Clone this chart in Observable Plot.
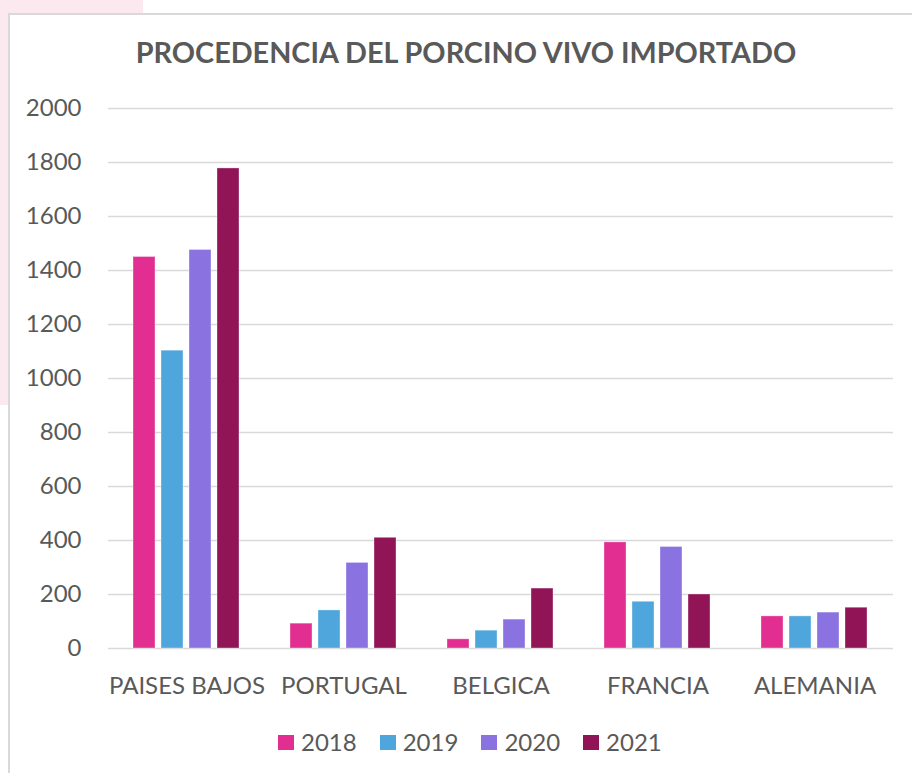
<!DOCTYPE html>
<html>
<head>
<meta charset="utf-8">
<script src="https://cdn.jsdelivr.net/npm/d3@7"></script>
<script src="https://cdn.jsdelivr.net/npm/@observablehq/plot@0.6"></script>
<style>
  html, body { margin: 0; padding: 0; background: #fff; }
  body { width: 912px; height: 773px; position: relative; overflow: hidden; font-family: Lato, "Open Sans", sans-serif; }
  #pink { position: absolute; left: 0; top: 0; width: 143px; height: 405px; background: #fce8ef; }
  #frame { position: absolute; left: 8px; top: 13px; width: 940px; height: 820px; background: #fff; border: 2px solid #d9d9d9; box-sizing: border-box; }
  #title { position: absolute; left: 0; width: 932px; top: 37px; text-align: center; font-size: 28.8px; line-height: 30px; font-weight: 700; color: #595959; white-space: nowrap; }
  #chart { position: absolute; left: 0; top: 80px; }
  #legend { position: absolute; left: 278px; top: 727px; display: flex; align-items: center; font-size: 24px; line-height: 30px; color: #595959; }
  .item { display: flex; align-items: center; margin-right: 23px; }
  .sw { width: 16px; height: 15px; margin-right: 7px; }
</style>
</head>
<body>
<div id="pink"></div>
<div id="frame"></div>
<div id="title">PROCEDENCIA DEL PORCINO VIVO IMPORTADO</div>
<div id="chart"></div>
<div id="legend"></div>
<script>
const countries = ["PAISES BAJOS", "PORTUGAL", "BELGICA", "FRANCIA", "ALEMANIA"];
const years = ["2018", "2019", "2020", "2021"];
const v2018 = [1450, 92, 34, 393, 119];
const v2019 = [1103, 141, 66, 173, 119];
const v2020 = [1476, 317, 107, 376, 133];
const v2021 = [1778, 410, 222, 200, 151];
const colors = ["#E22E91", "#4FA6DC", "#8A73E0", "#911457"];
const yTicks = [0, 200, 400, 600, 800, 1000, 1200, 1400, 1600, 1800, 2000];

const series = [v2018, v2019, v2020, v2021];
const data = [];
countries.forEach((c, i) => {
  years.forEach((y, j) => data.push({country: c, year: y, value: series[j][i]}));
});

const chart = Plot.plot({
  width: 912,
  height: 620,
  marginTop: 28,
  marginBottom: 52,
  marginLeft: 107,
  marginRight: 19,
  style: {fontFamily: "Lato, 'Open Sans', sans-serif", color: "#595959", background: "transparent"},
  fx: {domain: countries, padding: 0, label: null},
  x: {domain: years, paddingInner: 0.21, paddingOuter: 0.865, axis: null},
  y: {domain: [0, 2000], label: null},
  color: {domain: years, range: colors},
  marks: [
    Plot.gridY(yTicks, {stroke: "#d9d9d9", strokeOpacity: 1, strokeWidth: 1.6}),
    Plot.barY(data, {fx: "country", x: "year", y: "value", fill: "year", stroke: "#fff", strokeOpacity: 0.35, strokeWidth: 1}),
    Plot.axisY(yTicks, {tickSize: 0, tickPadding: 27, fontSize: 24, label: null, tickFormat: d => String(d)}),
    Plot.axisFx({anchor: "bottom", tickSize: 0, tickPadding: 28, fontSize: 24, label: null})
  ]
});
document.getElementById("chart").appendChild(chart);

const legend = document.getElementById("legend");
years.forEach((y, i) => {
  const item = document.createElement("div");
  item.className = "item";
  const sw = document.createElement("div");
  sw.className = "sw";
  sw.style.background = colors[i];
  const t = document.createElement("span");
  t.textContent = y;
  item.appendChild(sw);
  item.appendChild(t);
  legend.appendChild(item);
});
</script>
</body>
</html>
